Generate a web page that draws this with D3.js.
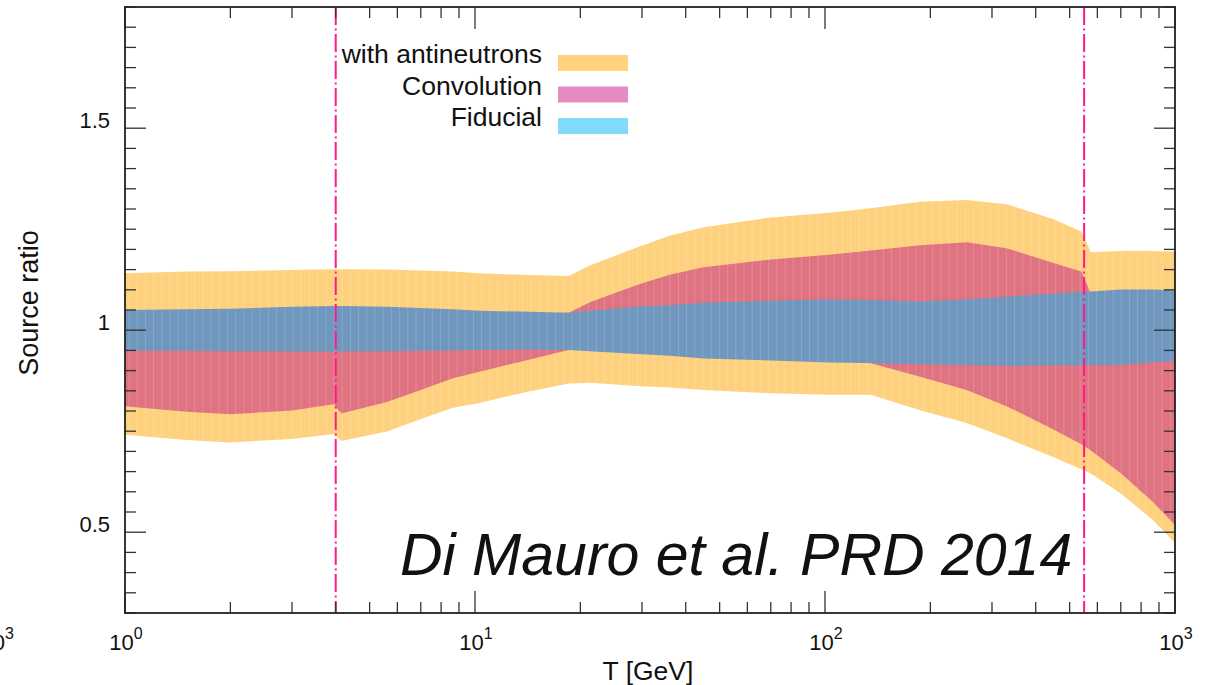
<!DOCTYPE html>
<html><head><meta charset="utf-8">
<script src="https://cdn.jsdelivr.net/npm/d3@7"></script>
<style>
body{margin:0;background:#fff}
svg{display:block}
text{font-family:"Liberation Sans",Arial,Helvetica,sans-serif;fill:#111}
</style>
</head><body>
<svg id="c" width="1212" height="685"></svg>
<script>
// ---------------- data ----------------
const energy = [1, 1.5, 2, 3, 3.95, 4.15, 5.6, 7, 8.65, 10.3, 13.5, 18.5, 21.3, 29, 36, 45, 70, 103, 135, 187, 254, 330, 448, 540, 575, 700, 865, 1000];
const antiHi = [1.141,1.145,1.146,1.149,1.151,1.151,1.150,1.148,1.145,1.141,1.137,1.134,1.160,1.205,1.234,1.255,1.279,1.291,1.302,1.318,1.322,1.312,1.275,1.244,1.193,1.196,1.196,1.194];
const antiLo = [0.741,0.728,0.722,0.731,0.743,0.726,0.749,0.780,0.808,0.820,0.844,0.868,0.870,0.862,0.858,0.852,0.844,0.840,0.840,0.802,0.770,0.733,0.686,0.656,0.645,0.596,0.530,0.473];
const convHi = [1.045,1.047,1.048,1.053,1.055,1.055,1.053,1.050,1.047,1.043,1.041,1.043,1.069,1.112,1.137,1.156,1.175,1.187,1.197,1.210,1.218,1.203,1.167,1.145,1.090,1.096,1.096,1.094];
const convLo = [0.812,0.798,0.792,0.801,0.817,0.794,0.822,0.852,0.881,0.897,0.922,0.951,0.953,0.946,0.942,0.935,0.930,0.925,0.918,0.885,0.852,0.812,0.755,0.718,0.702,0.646,0.575,0.518];
const fidHi  = [1.050,1.052,1.053,1.058,1.060,1.060,1.058,1.055,1.052,1.048,1.046,1.043,1.048,1.058,1.062,1.068,1.073,1.076,1.075,1.071,1.076,1.083,1.090,1.095,1.096,1.101,1.101,1.099];
const fidLo  = [0.949,0.949,0.948,0.947,0.947,0.947,0.948,0.949,0.950,0.951,0.952,0.951,0.948,0.941,0.937,0.930,0.925,0.920,0.919,0.916,0.914,0.912,0.913,0.913,0.913,0.914,0.920,0.924];

const legendLabels = ["with antineutrons", "Convolution", "Fiducial"];
const legendColors = ["#ffd27e", "#e38bc2", "#80dcfa"];
const bandColors   = ["#fed17f", "#e07382", "#7097be"];
const yMajorTicks = [0.5, 1, 1.5];
const yTickLabels = ["0.5", "1", "1.5"];
const xDecadeExponents = [0, 1, 2, 3];
const markerEnergies = [4.0, 550];
const xTitle = "T [GeV]";
const yTitle = "Source ratio";
const citation = "Di Mauro et al. PRD 2014";

// ---------------- layout ----------------
const L = 125, R = 1175, T = 7, B = 613;
const svg = d3.select("#c");
const x = d3.scaleLog().domain([1, 1000]).range([L, R]);
const y = d3.scaleLinear().domain([0.3, 1.8]).range([B, T]);

svg.append("defs").append("clipPath").attr("id", "plot")
  .append("rect").attr("x", L).attr("y", T).attr("width", R - L).attr("height", B - T);

const g = svg.append("g").attr("clip-path", "url(#plot)");
const idx = d3.range(energy.length);
function band(lo, hi) {
  return d3.area().x(i => x(energy[i])).y0(i => y(lo[i])).y1(i => y(hi[i]))(idx);
}
const bands = [[antiLo, antiHi], [convLo, convHi], [fidLo, fidHi]];
bands.forEach((b, k) => {
  g.append("path").attr("d", band(b[0], b[1])).attr("fill", bandColors[k]);
});

// faint vertical striping, clipped to the outer band
svg.select("defs").append("clipPath").attr("id", "bandclip")
  .append("path").attr("d", band(antiLo, antiHi));
const stripes = g.append("g").attr("clip-path", "url(#bandclip)");
stripes.selectAll("line").data(d3.range(L + 4, R, 8.2)).enter().append("line")
  .attr("x1", d => d).attr("x2", d => d).attr("y1", T).attr("y2", B)
  .attr("stroke", "#ffffff").attr("stroke-opacity", 0.16).attr("stroke-width", 1);

// marker lines
g.selectAll(".mk").data(markerEnergies).enter().append("line")
  .attr("x1", d => x(d)).attr("x2", d => x(d)).attr("y1", T).attr("y2", B)
  .attr("stroke", "#ff1a8c").attr("stroke-width", 2)
  .attr("stroke-dasharray", "18,3.5,2,3.5");

// ---------------- axes ----------------
const ax = svg.append("g").attr("stroke", "#333").attr("stroke-width", 1.3);
// y ticks left/right
const yT = d3.range(6, 37).map(k => k * 0.05);
yT.forEach(v => {
  const major = yMajorTicks.some(m => Math.abs(m - v) < 1e-6);
  const len = major ? 21 : 11;
  ax.append("line").attr("x1", L).attr("x2", L + len).attr("y1", y(v)).attr("y2", y(v));
  ax.append("line").attr("x1", R).attr("x2", R - len).attr("y1", y(v)).attr("y2", y(v));
});
// x ticks bottom/top
const xT = [];
[1, 10, 100].forEach(d => d3.range(1, 10).forEach(m => xT.push(d * m)));
xT.push(1000);
xT.forEach(v => {
  const major = [1, 10, 100, 1000].includes(v);
  const len = major ? 22 : 11;
  ax.append("line").attr("x1", x(v)).attr("x2", x(v)).attr("y1", B).attr("y2", B - len);
  ax.append("line").attr("x1", x(v)).attr("x2", x(v)).attr("y1", T).attr("y2", T + len);
});
// frame
svg.append("rect").attr("x", L).attr("y", T).attr("width", R - L).attr("height", B - T)
  .attr("fill", "none").attr("stroke", "#222").attr("stroke-width", 1.8);

// y tick labels
svg.selectAll(".yl").data(yMajorTicks).enter().append("text")
  .attr("x", L - 15).attr("y", d => y(d) - 0.5).attr("text-anchor", "end")
  .attr("font-size", 22).text((d, i) => yTickLabels[i]);

// x tick labels
function decadeLabel(sel, px, e, anchor) {
  const t = sel.append("text").attr("x", px).attr("y", 650).attr("text-anchor", anchor).attr("font-size", 22);
  t.append("tspan").text("10");
  t.append("tspan").attr("dy", -11).attr("font-size", 16).text(String(e));
}
xDecadeExponents.forEach(e => decadeLabel(svg, x(Math.pow(10, e)) + 1, e, "middle"));
// clipped label of a neighbouring panel at the far left
decadeLabel(svg, 14, 3, "end");

// axis titles
svg.append("text").attr("x", 648).attr("y", 680).attr("text-anchor", "middle")
  .attr("font-size", 26.5).text(xTitle);
svg.append("text").attr("transform", "translate(38,303) rotate(-90)").attr("text-anchor", "middle")
  .attr("font-size", 27).text(yTitle);

// legend
legendLabels.forEach((lab, i) => {
  const yc = 63 + i * 31.5;
  svg.append("text").attr("x", 542).attr("y", yc).attr("text-anchor", "end")
    .attr("font-size", 26.5).text(lab);
  svg.append("rect").attr("x", 558).attr("y", yc - 8).attr("width", 70).attr("height", 16)
    .attr("fill", legendColors[i]);
});

// citation
svg.append("text").attr("x", 400).attr("y", 575).attr("font-size", 59)
  .attr("font-style", "italic").text(citation);
</script>
</body></html>
